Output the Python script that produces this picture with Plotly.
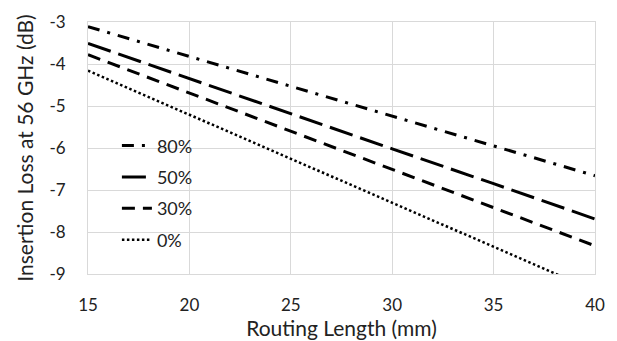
import plotly.graph_objects as go

routing_length = [15, 20, 25, 30, 35, 40]
loss_80 = [-3.11, -3.82, -4.53, -5.24, -5.95, -6.66]
loss_50 = [-3.51, -4.35, -5.18, -6.02, -6.85, -7.69]
loss_30 = [-3.78, -4.69, -5.60, -6.51, -7.42, -8.33]
loss_0 = [-4.16, -5.21, -6.25, -7.30, -8.35, -9.40]

x_ticks = [15, 20, 25, 30, 35, 40]
y_ticks = [-3, -4, -5, -6, -7, -8, -9]
y_tick_labels = ["-3", "-4", "-5", "-6", "-7", "-8", "-9"]

series = [
    ("80%", loss_80, "12px,8px,3px,8px", 3),
    ("50%", loss_50, "24px,8px", 3),
    ("30%", loss_30, "13px,8px", 3),
    ("0%", loss_0, "2.5px,2.5px", 2.5),
]

FONT = "Lato"
TXT = "#222"
fig = go.Figure()
for name, vals, dash, w in series:
    fig.add_trace(go.Scatter(
        x=routing_length, y=vals, mode="lines", name=name, legendgroup=name,
        line=dict(color="black", width=w, dash=dash),
    ))

fig.update_layout(
    width=617, height=341,
    margin=dict(l=88, r=22, t=11, b=66),
    paper_bgcolor="white", plot_bgcolor="white",
    font=dict(family=FONT, color=TXT),
    showlegend=True,
    legend=dict(
        x=0.057, y=0.582, xanchor="left", yanchor="top",
        tracegroupgap=5,
        bgcolor="rgba(0,0,0,0)", font=dict(size=18, family=FONT, color=TXT),
    ),
    xaxis=dict(
        range=[15, 40], tickvals=x_ticks,
        showgrid=True, gridcolor="#d9d9d9", gridwidth=1,
        showline=True, linecolor="#d9d9d9", mirror=True, zeroline=False,
        tickfont=dict(size=17, family=FONT, color=TXT),
        ticklabelstandoff=16,
        title=dict(text="Routing Length (mm)", font=dict(size=21, family=FONT, color=TXT), standoff=0),
    ),
    yaxis=dict(
        range=[-9, -3], tickvals=y_ticks, ticktext=y_tick_labels,
        showgrid=True, gridcolor="#d9d9d9", gridwidth=1,
        showline=True, linecolor="#d9d9d9", mirror=True, zeroline=False,
        tickfont=dict(size=17, family=FONT, color=TXT),
        ticklabelstandoff=18,
        title=dict(text="Insertion Loss at 56 GHz (dB)", font=dict(size=21, family=FONT, color=TXT), standoff=10),
    ),
)

fig.write_html(
    "out.html",
    config={"displayModeBar": False},
    post_script="document.body.style.margin='0';document.body.style.overflow='hidden';",
)
